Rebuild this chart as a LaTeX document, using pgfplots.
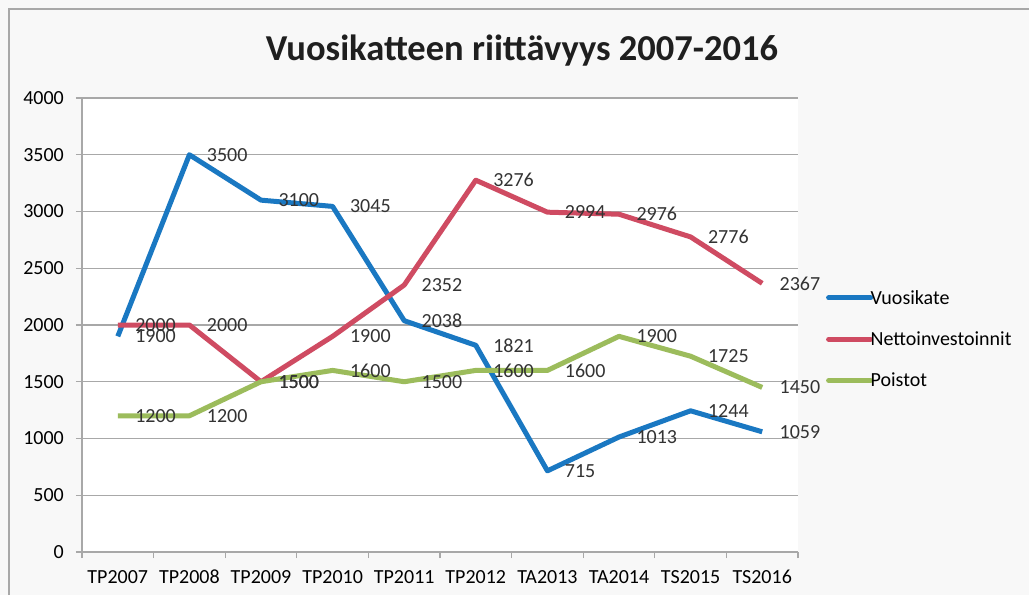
\documentclass[border=0pt]{standalone}
\usepackage{fontspec}
\setmainfont{Carlito}
\usepackage{pgfplots}
\pgfplotsset{compat=1.18}

\definecolor{cBlue}{HTML}{1A78C2}
\definecolor{cRed}{HTML}{CF4B62}
\definecolor{cGreen}{HTML}{9CBC5C}
\definecolor{cGrid}{HTML}{A8A8A8}
\definecolor{cBg}{HTML}{F8F8F8}

\newcommand{\lbl}{\fontsize{20}{24}\selectfont}

\begin{document}
\begin{tikzpicture}[x=1pt,y=1pt]
% page and frame
\path[fill=cBg, use as bounding box] (-82,-43) rectangle (947,552);
\draw[cGrid, line width=1.5pt] (-73,-43) -- (-73,543) -- (947,543);

\begin{axis}[
    at={(0,0)}, anchor=south west,
    width=716pt, height=454pt,
    scale only axis,
    axis background/.style={fill=white},
    xmin=-0.5, xmax=9.5,
    ymin=0, ymax=4000,
    xtick={0,...,9},
    xticklabels={TP2007,TP2008,TP2009,TP2010,TP2011,TP2012,TA2013,TA2014,TS2015,TS2016},
    minor xtick={-0.5,0.5,...,9.5},
    ytick={0,500,...,4000},
    yticklabel={\lbl\pgfmathprintnumber[assume math mode=true,1000 sep={}]{\tick}},
    axis x line*=bottom,
    axis y line*=left,
    axis line style={draw=cGrid, line width=1.2pt, -},
    tick align=outside,
    major tick length=6pt,
    minor tick length=6pt,
    major x tick style={draw=none},
    minor x tick style={draw=cGrid, line width=1.2pt},
    major y tick style={draw=cGrid, line width=1.2pt},
    ymajorgrids,
    major grid style={draw=cGrid, line width=1.2pt},
    tick label style={font=\lbl},
    every y tick label/.append style={font=\lbl, text=black, inner sep=0pt, xshift=-12pt},
    every x tick label/.append style={font=\lbl, text=black, inner sep=0pt, yshift=-12pt},
    /pgf/number format/assume math mode=true,
    /pgf/number format/1000 sep={},
    every axis plot/.append style={line width=5pt, line join=round},
    nodes near coords,
    point meta=y,
    nodes near coords style={font=\lbl, text=black!80,
        anchor=west, inner sep=0pt, xshift=15pt,
        /pgf/number format/fixed, /pgf/number format/precision=0},
    legend style={at={(1.039,0.578)}, anchor=north west, draw=none, fill=none,
        font=\lbl, row sep=25pt, column sep=-3pt,
        legend cell align=left, inner sep=0pt,
        nodes={inner sep=0.5pt}},
    legend image code/.code={\draw[#1, line cap=round, line width=5pt] (0pt,0pt) -- (42pt,0pt);},
    clip=false,
]

\addplot[cBlue] coordinates {
    (0,1900) (1,3500) (2,3100) (3,3045) (4,2038)
    (5,1821) (6,715) (7,1013) (8,1244) (9,1059)
};
\addlegendentry{Vuosikate}

\addplot[cRed] coordinates {
    (0,2000) (1,2000) (2,1500) (3,1900) (4,2352)
    (5,3276) (6,2994) (7,2976) (8,2776) (9,2367)
};
\addlegendentry{Nettoinvestoinnit}

\addplot[cGreen] coordinates {
    (0,1200) (1,1200) (2,1500) (3,1600) (4,1500)
    (5,1600) (6,1600) (7,1900) (8,1725) (9,1450)
};
\addlegendentry{Poistot}

\end{axis}

\node[font=\fontsize{36.5}{40}\selectfont\bfseries, text=black!88] at (440,501) {Vuosikatteen riittävyys 2007-2016};
\end{tikzpicture}
\end{document}
